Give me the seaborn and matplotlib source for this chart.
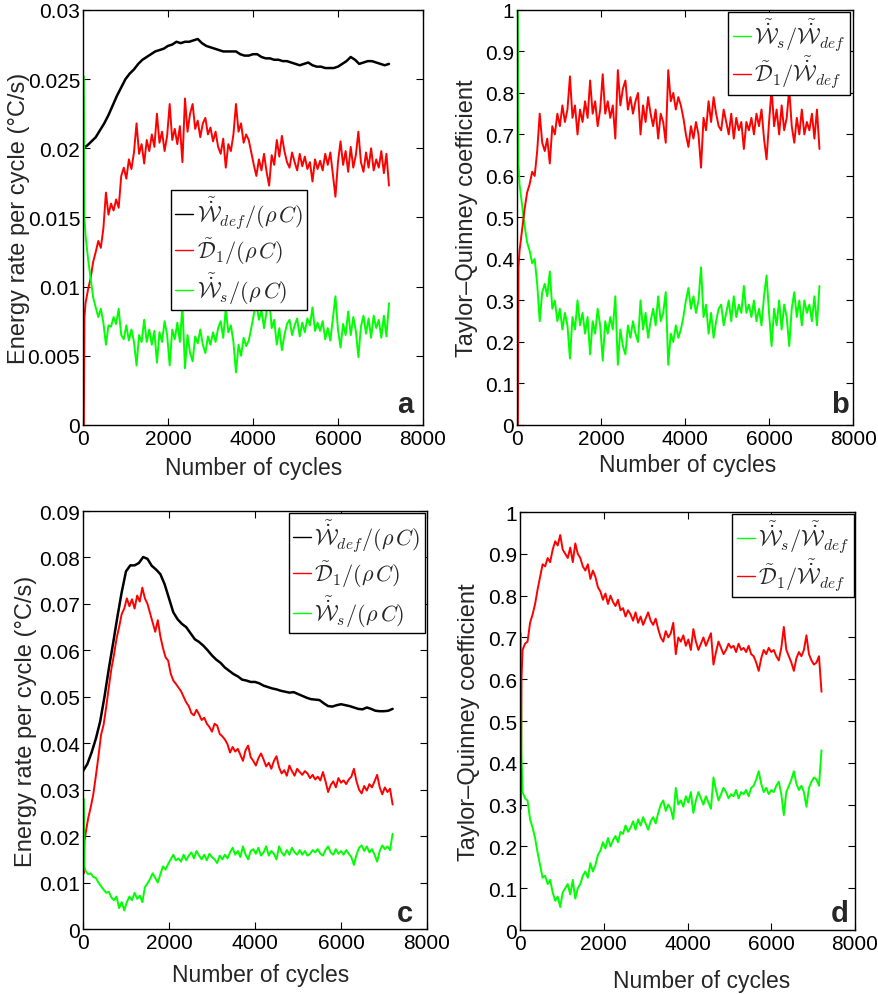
import numpy as np
import matplotlib
matplotlib.use("Agg")
import matplotlib.pyplot as plt
import seaborn as sns
from matplotlib.ticker import FuncFormatter

# sampling grids (number of cycles)
cycles_smooth = np.arange(0, 7201, 100)
cycles_noisy = np.arange(60, 7201, 60)
cycles_start = [20, 35]

# ---- panel a : energy rates, test 1 (°C/s)
wdef_a = [0.0200, 0.0202, 0.0205, 0.0208, 0.0213, 0.0218, 0.0224, 0.0231, 0.0238, 0.0244,
          0.0250, 0.0254, 0.0257, 0.0261, 0.0264, 0.0266, 0.0268, 0.0270, 0.0271, 0.0272,
          0.0274, 0.0275, 0.0277, 0.0276, 0.0277, 0.0277, 0.0278, 0.0279, 0.0276, 0.0274,
          0.0273, 0.0272, 0.0271, 0.0270, 0.0270, 0.0270, 0.0270, 0.0268, 0.0267, 0.0267,
          0.0268, 0.0268, 0.0266, 0.0265, 0.0265, 0.0264, 0.0264, 0.0263, 0.0263, 0.0262,
          0.0261, 0.0260, 0.0261, 0.0262, 0.0260, 0.0259, 0.0259, 0.0258, 0.0258, 0.0258,
          0.0259, 0.0261, 0.0263, 0.0266, 0.0264, 0.0261, 0.0262, 0.0263, 0.0263, 0.0262,
          0.0261, 0.0260, 0.0261]
d1_a_start = [0.0, 0.0078]
d1_a = [0.0088, 0.0098, 0.0106, 0.0118, 0.0125, 0.0133, 0.0128, 0.0142, 0.0168, 0.0152,
        0.0160, 0.0155, 0.0163, 0.0157, 0.0180, 0.0186, 0.0178, 0.0192, 0.0185, 0.0197,
        0.0218, 0.0196, 0.0203, 0.0189, 0.0206, 0.0198, 0.0210, 0.0201, 0.0225, 0.0204,
        0.0212, 0.0198, 0.0209, 0.0232, 0.0206, 0.0214, 0.0203, 0.0216, 0.0190, 0.0236,
        0.0212, 0.0225, 0.0232, 0.0214, 0.0220, 0.0208, 0.0218, 0.0222, 0.0210, 0.0215,
        0.0205, 0.0212, 0.0201, 0.0196, 0.0207, 0.0186, 0.0203, 0.0198, 0.0210, 0.0232,
        0.0212, 0.0218, 0.0204, 0.0210, 0.0206, 0.0197, 0.0188, 0.0180, 0.0192, 0.0184,
        0.0196, 0.0183, 0.0173, 0.0195, 0.0188, 0.0206, 0.0194, 0.0209, 0.0198, 0.0190,
        0.0186, 0.0197, 0.0190, 0.0184, 0.0196, 0.0187, 0.0194, 0.0185, 0.0190, 0.0176,
        0.0192, 0.0185, 0.0191, 0.0184, 0.0196, 0.0188, 0.0197, 0.0181, 0.0165, 0.0190,
        0.0205, 0.0188, 0.0198, 0.0183, 0.0201, 0.0186, 0.0195, 0.0212, 0.0190, 0.0183,
        0.0197, 0.0186, 0.0200, 0.0184, 0.0192, 0.0186, 0.0198, 0.0182, 0.0196, 0.0173]
ws_a_start = [0.0252, 0.0150]
ws_a = [0.0137, 0.0120, 0.0106, 0.0092, 0.0085, 0.0078, 0.0084, 0.0074, 0.0058, 0.0072,
        0.0071, 0.0078, 0.0073, 0.0084, 0.0065, 0.0062, 0.0072, 0.0061, 0.0069, 0.0060,
        0.0043, 0.0065, 0.0060, 0.0076, 0.0060, 0.0069, 0.0058, 0.0068, 0.0045, 0.0067,
        0.0060, 0.0075, 0.0065, 0.0043, 0.0069, 0.0062, 0.0074, 0.0060, 0.0086, 0.0041,
        0.0065, 0.0052, 0.0046, 0.0064, 0.0059, 0.0069, 0.0058, 0.0052, 0.0064, 0.0058,
        0.0067, 0.0060, 0.0070, 0.0075, 0.0063, 0.0084, 0.0067, 0.0072, 0.0060, 0.0038,
        0.0058, 0.0050, 0.0063, 0.0057, 0.0061, 0.0070, 0.0080, 0.0088, 0.0076, 0.0083,
        0.0070, 0.0082, 0.0092, 0.0070, 0.0076, 0.0058, 0.0070, 0.0054, 0.0065, 0.0073,
        0.0076, 0.0065, 0.0072, 0.0077, 0.0064, 0.0074, 0.0067, 0.0077, 0.0072, 0.0085,
        0.0068, 0.0074, 0.0068, 0.0075, 0.0062, 0.0070, 0.0061, 0.0077, 0.0093, 0.0069,
        0.0056, 0.0073, 0.0065, 0.0082, 0.0065, 0.0078, 0.0068, 0.0049, 0.0071, 0.0079,
        0.0066, 0.0077, 0.0063, 0.0079, 0.0070, 0.0076, 0.0063, 0.0079, 0.0064, 0.0088]

# ---- panel b : Taylor-Quinney coefficients, test 1
ws_b_start = [1.0, 0.63]
ws_b = [0.58, 0.53, 0.48, 0.44, 0.42, 0.39, 0.40, 0.34, 0.25, 0.32,
        0.34, 0.31, 0.37, 0.28, 0.30, 0.25, 0.28, 0.23, 0.27, 0.24,
        0.16, 0.26, 0.23, 0.30, 0.24, 0.27, 0.22, 0.26, 0.17, 0.25,
        0.22, 0.28, 0.24, 0.155, 0.25, 0.22, 0.26, 0.23, 0.31, 0.145,
        0.23, 0.19, 0.17, 0.24, 0.21, 0.25, 0.22, 0.20, 0.30, 0.23,
        0.27, 0.21, 0.25, 0.28, 0.24, 0.31, 0.25, 0.27, 0.32, 0.145,
        0.22, 0.20, 0.24, 0.21, 0.23, 0.26, 0.30, 0.33, 0.28, 0.31,
        0.27, 0.30, 0.38, 0.26, 0.29, 0.22, 0.27, 0.21, 0.25, 0.28,
        0.29, 0.24, 0.27, 0.30, 0.25, 0.31, 0.26, 0.29, 0.27, 0.335,
        0.27, 0.29, 0.26, 0.30, 0.25, 0.28, 0.24, 0.31, 0.36, 0.27,
        0.19, 0.28, 0.24, 0.30, 0.23, 0.29, 0.26, 0.19, 0.28, 0.32,
        0.26, 0.30, 0.24, 0.30, 0.27, 0.29, 0.25, 0.31, 0.24, 0.335]
d1_b_start = [0.0, 0.38]
d1_b = [0.42, 0.47, 0.52, 0.56, 0.58, 0.61, 0.60, 0.66, 0.75, 0.68,
        0.66, 0.69, 0.63, 0.72, 0.70, 0.75, 0.72, 0.77, 0.73, 0.76,
        0.84, 0.74, 0.77, 0.70, 0.76, 0.73, 0.78, 0.74, 0.83, 0.75,
        0.78, 0.72, 0.76, 0.845, 0.75, 0.78, 0.74, 0.77, 0.69, 0.855,
        0.77, 0.81, 0.83, 0.76, 0.79, 0.75, 0.78, 0.80, 0.70, 0.77,
        0.73, 0.79, 0.75, 0.72, 0.76, 0.69, 0.75, 0.73, 0.68, 0.855,
        0.78, 0.80, 0.76, 0.79, 0.77, 0.74, 0.70, 0.67, 0.72, 0.69,
        0.73, 0.70, 0.62, 0.74, 0.71, 0.78, 0.73, 0.79, 0.75, 0.72,
        0.71, 0.76, 0.73, 0.70, 0.75, 0.69, 0.74, 0.71, 0.73, 0.665,
        0.73, 0.71, 0.74, 0.70, 0.75, 0.72, 0.76, 0.69, 0.64, 0.73,
        0.81, 0.72, 0.76, 0.70, 0.77, 0.71, 0.74, 0.81, 0.72, 0.68,
        0.74, 0.70, 0.76, 0.70, 0.73, 0.71, 0.75, 0.69, 0.76, 0.665]

# ---- panel c : energy rates, test 2 (°C/s)
wdef_c = [0.0340, 0.0355, 0.0380, 0.0410, 0.0447, 0.0500, 0.0560, 0.0615, 0.0672, 0.0725,
          0.0770, 0.0783, 0.0783, 0.0788, 0.0801, 0.0797, 0.0782, 0.0774, 0.0764, 0.0742,
          0.0712, 0.0682, 0.0667, 0.0657, 0.0650, 0.0637, 0.0624, 0.0618, 0.0610, 0.0600,
          0.0589, 0.0580, 0.0573, 0.0563, 0.0556, 0.0549, 0.0544, 0.0537, 0.0535, 0.0532,
          0.0532, 0.0529, 0.0524, 0.0521, 0.0518, 0.0516, 0.0513, 0.0511, 0.0509, 0.0510,
          0.0506, 0.0502, 0.0498, 0.0495, 0.0494, 0.0493, 0.0486, 0.0480, 0.0479, 0.0482,
          0.0484, 0.0482, 0.0480, 0.0477, 0.0474, 0.0473, 0.0477, 0.0474, 0.0470, 0.0469,
          0.0469, 0.0470, 0.0474]
d1_c_start = [0.0120, 0.0190]
d1_c = [0.0205, 0.0238, 0.0262, 0.0290, 0.0330, 0.0372, 0.0418, 0.0440, 0.0478, 0.0520,
        0.0560, 0.0590, 0.0625, 0.0650, 0.0678, 0.0690, 0.0712, 0.0695, 0.0710, 0.0690,
        0.0718, 0.0705, 0.0735, 0.0712, 0.0700, 0.0680, 0.0660, 0.0640, 0.0665, 0.0630,
        0.0605, 0.0585, 0.0578, 0.0550, 0.0535, 0.0528, 0.0520, 0.0512, 0.0500, 0.0488,
        0.0480, 0.0465, 0.0460, 0.0472, 0.0462, 0.0450, 0.0455, 0.0442, 0.0435, 0.0425,
        0.0442, 0.0438, 0.0420, 0.0415, 0.0408, 0.0398, 0.0380, 0.0392, 0.0382, 0.0388,
        0.0375, 0.0362, 0.0385, 0.0395, 0.0370, 0.0362, 0.0352, 0.0368, 0.0378, 0.0365,
        0.0350, 0.0358, 0.0345, 0.0362, 0.0372, 0.0348, 0.0335, 0.0342, 0.0330, 0.0352,
        0.0340, 0.0330, 0.0345, 0.0338, 0.0332, 0.0340, 0.0335, 0.0325, 0.0332, 0.0322,
        0.0328, 0.0320, 0.0338, 0.0318, 0.0295, 0.0310, 0.0318, 0.0305, 0.0325, 0.0315,
        0.0320, 0.0312, 0.0322, 0.0328, 0.0345, 0.0318, 0.0300, 0.0292, 0.0308, 0.0298,
        0.0312, 0.0305, 0.0318, 0.0332, 0.0305, 0.0290, 0.0305, 0.0295, 0.0302, 0.0268]
ws_c_start = [0.0280, 0.0135]
ws_c = [0.0125, 0.0118, 0.0120, 0.0112, 0.0110, 0.0100, 0.0092, 0.0085, 0.0078, 0.0080,
        0.0068, 0.0062, 0.0070, 0.0045, 0.0058, 0.0040, 0.0058, 0.0070, 0.0062, 0.0078,
        0.0065, 0.0072, 0.0058, 0.0090, 0.0098, 0.0108, 0.0120, 0.0110, 0.0100, 0.0118,
        0.0135, 0.0128, 0.0140, 0.0150, 0.0160, 0.0148, 0.0152, 0.0145, 0.0160, 0.0148,
        0.0158, 0.0165, 0.0152, 0.0168, 0.0158, 0.0150, 0.0160, 0.0148, 0.0162, 0.0155,
        0.0150, 0.0142, 0.0158, 0.0150, 0.0160, 0.0152, 0.0165, 0.0175, 0.0160, 0.0168,
        0.0155, 0.0178, 0.0160, 0.0150, 0.0168, 0.0172, 0.0162, 0.0175, 0.0158, 0.0165,
        0.0178, 0.0158, 0.0168, 0.0162, 0.0150, 0.0178, 0.0165, 0.0158, 0.0170, 0.0160,
        0.0175, 0.0165, 0.0160, 0.0170, 0.0160, 0.0168, 0.0158, 0.0162, 0.0170, 0.0165,
        0.0172, 0.0162, 0.0158, 0.0170, 0.0178, 0.0165, 0.0160, 0.0172, 0.0162, 0.0168,
        0.0160, 0.0170, 0.0162, 0.0155, 0.0138, 0.0160, 0.0175, 0.0180, 0.0168, 0.0178,
        0.0165, 0.0172, 0.0160, 0.0145, 0.0168, 0.0180, 0.0172, 0.0178, 0.0170, 0.0205]

# ---- panel d : Taylor-Quinney coefficients, test 2
ws_d_start = [0.71, 0.42]
ws_d = [0.33, 0.315, 0.31, 0.265, 0.245, 0.22, 0.185, 0.155, 0.125, 0.13,
        0.11, 0.12, 0.09, 0.07, 0.08, 0.055, 0.09, 0.10, 0.11, 0.085,
        0.12, 0.075, 0.10, 0.11, 0.13, 0.14, 0.125, 0.16, 0.14, 0.155,
        0.18, 0.19, 0.21, 0.195, 0.22, 0.20, 0.215, 0.225, 0.21, 0.235,
        0.23, 0.25, 0.235, 0.245, 0.26, 0.24, 0.265, 0.25, 0.27, 0.255,
        0.24, 0.26, 0.27, 0.255, 0.28, 0.30, 0.31, 0.285, 0.30, 0.29,
        0.265, 0.34, 0.30, 0.31, 0.295, 0.32, 0.305, 0.33, 0.28, 0.31,
        0.33, 0.315, 0.30, 0.32, 0.305, 0.29, 0.365, 0.335, 0.31, 0.325,
        0.34, 0.33, 0.315, 0.325, 0.32, 0.335, 0.315, 0.33, 0.325, 0.335,
        0.32, 0.34, 0.345, 0.36, 0.38, 0.35, 0.33, 0.34, 0.325, 0.335,
        0.33, 0.345, 0.355, 0.325, 0.275, 0.33, 0.345, 0.36, 0.38, 0.35,
        0.335, 0.345, 0.33, 0.295, 0.34, 0.355, 0.365, 0.36, 0.345, 0.43]
d1_d_start = [0.29, 0.60]
d1_d = [0.67, 0.685, 0.69, 0.735, 0.755, 0.78, 0.815, 0.845, 0.875, 0.87,
        0.89, 0.88, 0.91, 0.93, 0.92, 0.945, 0.91, 0.90, 0.89, 0.915,
        0.88, 0.925, 0.90, 0.89, 0.87, 0.86, 0.875, 0.84, 0.86, 0.845,
        0.82, 0.81, 0.79, 0.805, 0.78, 0.80, 0.785, 0.775, 0.79, 0.765,
        0.77, 0.75, 0.765, 0.755, 0.74, 0.76, 0.735, 0.75, 0.73, 0.745,
        0.76, 0.74, 0.73, 0.745, 0.72, 0.70, 0.69, 0.715, 0.70, 0.71,
        0.735, 0.66, 0.70, 0.69, 0.705, 0.68, 0.695, 0.67, 0.72, 0.69,
        0.67, 0.685, 0.70, 0.68, 0.695, 0.71, 0.635, 0.665, 0.69, 0.675,
        0.66, 0.67, 0.685, 0.675, 0.68, 0.665, 0.685, 0.67, 0.675, 0.665,
        0.68, 0.66, 0.655, 0.64, 0.62, 0.65, 0.67, 0.66, 0.675, 0.665,
        0.67, 0.655, 0.645, 0.675, 0.725, 0.67, 0.655, 0.64, 0.62, 0.65,
        0.665, 0.655, 0.67, 0.705, 0.66, 0.645, 0.635, 0.64, 0.655, 0.57]

lab_wdef = r'$\tilde{\dot{\mathcal{W}}}_{def}/(\rho\,C)$'
lab_d1 = r'$\tilde{\mathcal{D}}_1/(\rho\,C)$'
lab_ws = r'$\tilde{\dot{\mathcal{W}}}_s/(\rho\,C)$'
lab_ws_ratio = r'$\tilde{\dot{\mathcal{W}}}_s/\tilde{\dot{\mathcal{W}}}_{def}$'
lab_d1_ratio = r'$\tilde{\mathcal{D}}_1/\tilde{\dot{\mathcal{W}}}_{def}$'

BLACK, RED, GREEN = '#000000', '#ff0000', '#00ff00'

sns.set_style("ticks")
plt.rcParams['font.family'] = ['Liberation Sans', 'DejaVu Sans']
plt.rcParams['mathtext.fontset'] = 'cm'

fig = plt.figure(figsize=(8.79, 9.95), dpi=100)
ax_a = fig.add_axes([0.0944, 0.5719, 0.3868, 0.4171])
ax_b = fig.add_axes([0.5882, 0.5719, 0.3823, 0.4171])
ax_c = fig.add_axes([0.0944, 0.0653, 0.3914, 0.4201])
ax_d = fig.add_axes([0.5916, 0.0643, 0.3811, 0.4201])


def noisy_x():
    return np.r_[cycles_start, cycles_noisy]


def draw(ax, x, y, color, lw=1.4):
    sns.lineplot(x=x, y=y, color=color, linewidth=lw, ax=ax, legend=False)
    return ax.lines[-1]


def style(ax, ymax, ystep, ylabel, letter, ylab_x, xlab_y, xlab_x, let_xy):
    ax.set_xlim(0, 8000)
    ax.set_ylim(0, ymax)
    ax.set_xticks([0, 2000, 4000, 6000, 8000])
    ax.set_yticks(np.linspace(0, ymax, int(round(ymax / ystep)) + 1))
    ax.yaxis.set_major_formatter(FuncFormatter(lambda v, p: '%g' % round(v, 4)))
    ax.tick_params(direction='in', top=True, right=True, length=5, width=0.8,
                   labelsize=15, pad=3, colors='black')
    ax.tick_params(axis='y', pad=2)
    for s in ax.spines.values():
        s.set_linewidth(1.0)
        s.set_color('black')
    ax.set_ylabel(ylabel, fontsize=17)
    ax.set_xlabel('Number of cycles', fontsize=16.5)
    ax.yaxis.set_label_coords(ylab_x, 0.5)
    ax.xaxis.set_label_coords(xlab_x, xlab_y)
    ax.text(let_xy[0], let_xy[1], letter, transform=ax.transAxes, ha='right',
            va='baseline', fontsize=21, fontweight='bold')


def legend(ax, handles, labels, loc, anchor, spacing):
    leg = ax.legend(handles, labels, loc=loc, bbox_to_anchor=anchor, borderaxespad=0,
                    fontsize=16, frameon=True, fancybox=False, framealpha=1,
                    edgecolor='black', handlelength=0.8, handletextpad=0.15,
                    labelspacing=spacing, borderpad=0.2)
    leg.get_frame().set_linewidth(1.0)
    for line in leg.get_lines():
        line.set_linewidth(1.0)


# panel a
h_w = draw(ax_a, cycles_smooth, wdef_a, BLACK, 1.8)
h_d = draw(ax_a, noisy_x(), d1_a_start + d1_a, RED)
h_s = draw(ax_a, noisy_x(), ws_a_start + ws_a, GREEN)
style(ax_a, 0.03, 0.005, 'Energy rate per cycle (°C/s)', 'a', -0.155, -0.075, 0.502, (0.972, 0.031))
legend(ax_a, [h_w, h_d, h_s], [lab_wdef, lab_d1, lab_ws], 'upper left', (0.259, 0.566), 0.2)

# panel b
h_s = draw(ax_b, noisy_x(), ws_b_start + ws_b, GREEN)
h_d = draw(ax_b, noisy_x(), d1_b_start + d1_b, RED)
style(ax_b, 1.0, 0.1, 'Taylor–Quinney coefficient', 'b', -0.116, -0.068, 0.509, (0.988, 0.031))
legend(ax_b, [h_s, h_d], [lab_ws_ratio, lab_d1_ratio], 'upper right', (0.991, 0.995), 0.05)

# panel c
h_w = draw(ax_c, cycles_smooth, wdef_c, BLACK, 1.8)
h_d = draw(ax_c, noisy_x(), d1_c_start + d1_c, RED)
h_s = draw(ax_c, noisy_x(), ws_c_start + ws_c, GREEN)
style(ax_c, 0.09, 0.01, 'Energy rate per cycle (°C/s)', 'c', -0.135, -0.081, 0.517, (0.959, 0.019))
legend(ax_c, [h_w, h_d, h_s], [lab_wdef, lab_d1, lab_ws], 'upper right', (0.994, 0.995), 0.2)

# panel d
h_s = draw(ax_d, noisy_x(), ws_d_start + ws_d, GREEN)
h_d = draw(ax_d, noisy_x(), d1_d_start + d1_d, RED)
style(ax_d, 1.0, 0.1, 'Taylor–Quinney coefficient', 'd', -0.119, -0.093, 0.543, (0.982, 0.0215))
legend(ax_d, [h_s, h_d], [lab_ws_ratio, lab_d1_ratio], 'upper right', (0.997, 0.995), 0.05)

fig.savefig('out.png', dpi=100)
